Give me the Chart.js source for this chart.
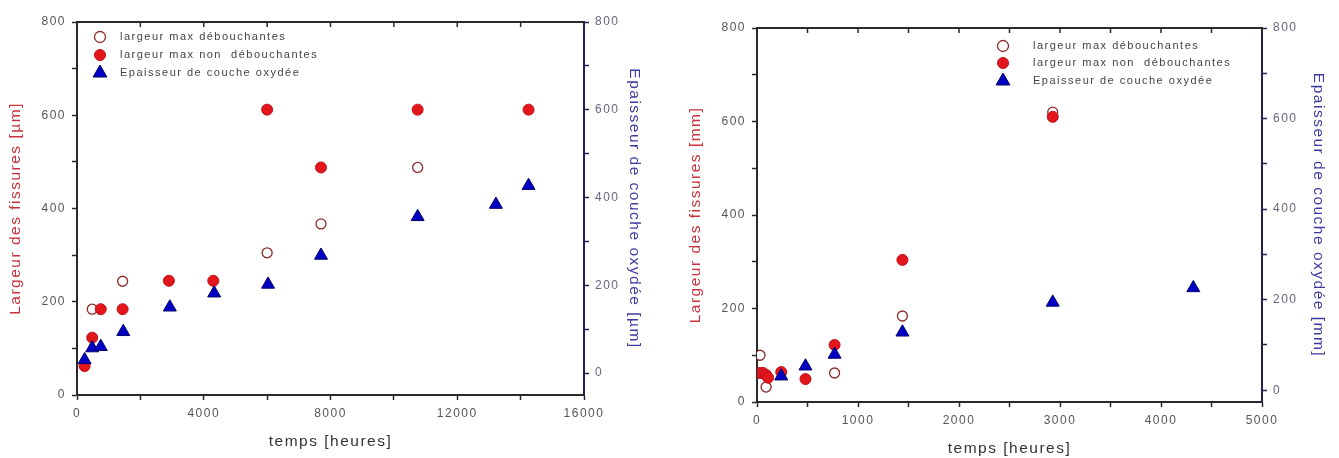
<!DOCTYPE html>
<html>
<head>
<meta charset="utf-8">
<script src="https://cdn.jsdelivr.net/npm/chart.js@4.4.1/dist/chart.umd.min.js"></script>
<style>
  html, body { margin: 0; padding: 0; background: #fff; }
  #wrap { position: relative; width: 1339px; height: 458px; }
  .panel { position: absolute; top: 0; height: 458px; }
</style>
</head>
<body>
<div id="wrap">
  <div class="panel" style="left:0;width:670px"><canvas id="chartLeft"></canvas></div>
  <div class="panel" style="left:670px;width:669px"><canvas id="chartRight"></canvas></div>
</div>
<script>
// ---- left panel (µm) ----
const hoursOpenL   = [480, 1440, 6000, 7700, 10750];
const widthOpenL   = [184, 244, 305, 367, 488];
const hoursFilledL = [240, 480, 750, 1440, 2900, 4300, 6000, 7700, 10750, 14250];
const widthFilledL = [62, 123, 184, 184, 245, 245, 612, 488, 612, 612];
const hoursOxideL  = [240, 480, 750, 1460, 2930, 4330, 6030, 7700, 10750, 13220, 14250];
const oxideL       = [30, 57, 60, 94, 150, 182, 202, 268, 356, 384, 427];

// ---- right panel (mm) ----
const hoursOpenR   = [30, 90, 768, 1440, 2928];
const widthOpenR   = [100, 32, 62, 184, 620];
const hoursFilledR = [30, 60, 90, 110, 240, 480, 768, 1440, 2928];
const widthFilledR = [62, 62, 58, 52, 64, 49, 122, 304, 610];
const hoursOxideR  = [240, 480, 768, 1440, 2928, 4320];
const oxideR       = [31, 53, 79, 128, 194, 226];

const legendLabels = ['largeur max débouchantes', 'largeur max non  débouchantes', 'Epaisseur de couche oxydée'];
const xTitle = 'temps [heures]';

const FONT = "'Liberation Sans', Arial, sans-serif";
const axisDark = '#2a2a2a';
const axisNavy = '#20204e';
const redTitle = '#c8323c';
const blueTitle = '#3c3ca0';

function pts(xs, ys) {
  return xs.map((x, i) => ({ x: x, y: ys[i] }));
}

function makeDatasets(openX, openY, fillX, fillY, oxX, oxY) {
  return [
    { label: legendLabels[0], data: pts(openX, openY), yAxisID: 'y', pointStyle: 'circle',
      pointRadius: 5, backgroundColor: '#ffffff', borderColor: '#8c2a2a', borderWidth: 1.3, order: 2, legendRadius: 5.5 },
    { label: legendLabels[1], data: pts(fillX, fillY), yAxisID: 'y', pointStyle: 'circle',
      pointRadius: 5.5, backgroundColor: '#e3161c', borderColor: '#c01018', borderWidth: 1, order: 1, legendRadius: 5.5 },
    { label: legendLabels[2], data: pts(oxX, oxY), yAxisID: 'y1', pointStyle: 'triangle',
      pointRadius: 7.5, backgroundColor: '#0000c4', borderColor: '#00006a', borderWidth: 1, order: 0, legendRadius: 8 }
  ];
}

// y axis with minor ticks every 100, labels every 200
function yAxis(pos, min, title, titleColor, lineColor, tickLabelColor, width, titlePad) {
  return {
    type: 'linear', position: pos, min: min, max: 800,
    afterFit: function(s) { s.width = width; },
    border: { color: lineColor, width: 2 },
    grid: {
      drawOnChartArea: false, tickLength: 5, tickWidth: 1.5,
      tickColor: function(ctx) { return ctx.tick && ctx.tick.value % 100 === 0 ? lineColor : 'rgba(0,0,0,0)'; }
    },
    ticks: {
      stepSize: 100, autoSkip: false, includeBounds: false, padding: 6, color: tickLabelColor,
      font: { family: FONT, size: 12 },
      callback: function(v) { return v % 200 === 0 ? v : ''; }
    },
    title: { display: true, text: title, color: titleColor, font: { family: FONT, size: 15.5 },
      padding: { top: titlePad, bottom: titlePad } }
  };
}

function xAxis(max, step, labelStep, height, titlePad) {
  return {
    type: 'linear', position: 'bottom', min: 0, max: max,
    afterFit: function(s) { s.height = height; },
    border: { color: axisDark, width: 2 },
    grid: { drawOnChartArea: false, tickLength: 5, tickWidth: 1.5, tickColor: axisDark },
    ticks: {
      stepSize: step, autoSkip: false, maxRotation: 0, padding: 6, color: '#555',
      font: { family: FONT, size: 12 },
      callback: function(v) { return v % labelStep === 0 ? v : ''; }
    },
    title: { display: true, text: xTitle, color: '#333', font: { family: FONT, size: 15.5 },
      padding: { top: titlePad, bottom: titlePad } }
  };
}

// wide letter spacing like the original
const spacing = {
  id: 'spacing',
  beforeDraw: function(chart) {
    if ('letterSpacing' in chart.ctx) chart.ctx.letterSpacing = '1.5px';
  }
};

// top frame line with inward ticks taken from the x scale
const topAxis = {
  id: 'topAxis',
  afterDraw: function(chart) {
    const ctx = chart.ctx, a = chart.chartArea, x = chart.scales.x;
    ctx.save();
    ctx.strokeStyle = axisDark;
    ctx.lineWidth = 2;
    ctx.beginPath();
    ctx.moveTo(a.left - 1, a.top);
    ctx.lineTo(a.right + 1, a.top);
    ctx.stroke();
    ctx.lineWidth = 1.5;
    x.ticks.forEach(function(t) {
      const px = x.getPixelForValue(t.value);
      ctx.beginPath();
      ctx.moveTo(px, a.top);
      ctx.lineTo(px, a.top + 5);
      ctx.stroke();
    });
    ctx.restore();
  }
};

// legend drawn inside the plot area
const insideLegend = {
  id: 'insideLegend',
  afterDatasetsDraw: function(chart, args, opts) {
    const ctx = chart.ctx, a = chart.chartArea;
    ctx.save();
    chart.data.datasets.forEach(function(ds, i) {
      const cx = a.left + opts.dx;
      const cy = a.top + opts.dy[i];
      ctx.fillStyle = ds.backgroundColor;
      ctx.strokeStyle = ds.borderColor;
      ctx.lineWidth = ds.borderWidth;
      Chart.helpers.drawPoint(ctx, { pointStyle: ds.pointStyle, radius: ds.legendRadius, borderWidth: ds.borderWidth, rotation: 0 }, cx, cy);
      ctx.fillStyle = '#444';
      ctx.font = '11px ' + FONT;
      ctx.textBaseline = 'middle';
      ctx.textAlign = 'left';
      ctx.fillText(ds.label, cx + opts.gap, cy);
    });
    ctx.restore();
  }
};

function makeChart(id, datasets, cfg) {
  return new Chart(document.getElementById(id), {
    type: 'scatter',
    data: { datasets: datasets },
    options: {
      responsive: true,
      maintainAspectRatio: false,
      animation: false,
      events: [],
      layout: { padding: { top: cfg.top, left: 0, right: 0, bottom: 0 } },
      scales: {
        x: xAxis(cfg.xMax, cfg.xStep, cfg.xLabelStep, cfg.xHeight, cfg.xTitlePad),
        y: yAxis('left', 0, cfg.leftTitle, redTitle, axisDark, '#555', cfg.leftWidth, cfg.leftTitlePad),
        y1: yAxis('right', cfg.rightMin, cfg.rightTitle, blueTitle, axisNavy, '#66667e', cfg.rightWidth, cfg.rightTitlePad)
      },
      plugins: {
        legend: { display: false },
        tooltip: { enabled: false },
        insideLegend: cfg.legend
      }
    },
    plugins: [spacing, topAxis, insideLegend]
  });
}

makeChart('chartLeft',
  makeDatasets(hoursOpenL, widthOpenL, hoursFilledL, widthFilledL, hoursOxideL, oxideL), {
    top: 22, xMax: 16000, xStep: 2000, xLabelStep: 4000, xHeight: 63, xTitlePad: 7,
    leftTitle: 'Largeur des fissures [µm]', leftWidth: 77, leftTitlePad: 6,
    rightTitle: 'Epaisseur de couche oxydée [µm]', rightMin: -50, rightWidth: 86, rightTitlePad: 26,
    legend: { dx: 23, dy: [15, 33, 51], gap: 20 }
  });

makeChart('chartRight',
  makeDatasets(hoursOpenR, widthOpenR, hoursFilledR, widthFilledR, hoursOxideR, oxideR), {
    top: 28, xMax: 5000, xStep: 500, xLabelStep: 1000, xHeight: 56, xTitlePad: 0,
    leftTitle: 'Largeur des fissures [mm]', leftWidth: 87, leftTitlePad: 16,
    rightTitle: 'Epaisseur de couche oxydée [mm]', rightMin: -26, rightWidth: 77, rightTitlePad: 11,
    legend: { dx: 246, dy: [18, 35, 53], gap: 30 }
  });
</script>
</body>
</html>
